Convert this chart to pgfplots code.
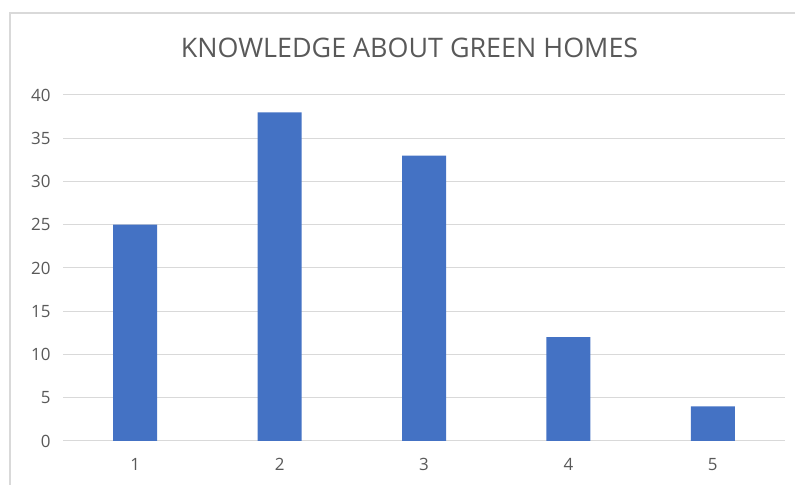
\documentclass[border=0pt]{standalone}
\usepackage{pgfplots}
\pgfplotsset{compat=1.18}
\usepackage{fontspec}
\setmainfont{Open Sans}
\definecolor{barblue}{HTML}{4472C4}
\definecolor{txtgray}{HTML}{595959}
\definecolor{gridgray}{HTML}{D9D9D9}
\begin{document}
\begin{tikzpicture}[x=1bp,y=1bp]
\path[use as bounding box] (0,0) rectangle (795,485);
\draw[gridgray, line width=1.5bp] (10,0) -- (10,472) -- (795,472);
\node[anchor=base, text=txtgray, font=\fontsize{27}{29}\selectfont] at (409.5,427) {KNOWLEDGE ABOUT GREEN HOMES};
\begin{axis}[
  at={(63bp,44bp)}, anchor=south west,
  scale only axis, width=722bp, height=346bp,
  xmin=0.5, xmax=5.5, ymin=0, ymax=40,
  ytick={0,5,...,40}, xtick={1,2,3,4,5},
  ymajorgrids, grid style={gridgray, line width=1bp},
  axis line style={draw=none},
  major tick length=0pt,
  tick label style={text=txtgray, font=\fontsize{17}{19}\selectfont},
  /pgf/number format/assume math mode=true,
  yticklabel style={xshift=-9bp},
  xticklabel style={yshift=-14bp},
  clip=false,
]
\addplot[ybar, bar width=44bp, fill=barblue, draw=none] coordinates {(1,25) (2,38) (3,33) (4,12) (5,4)};
\end{axis}
\end{tikzpicture}
\end{document}
